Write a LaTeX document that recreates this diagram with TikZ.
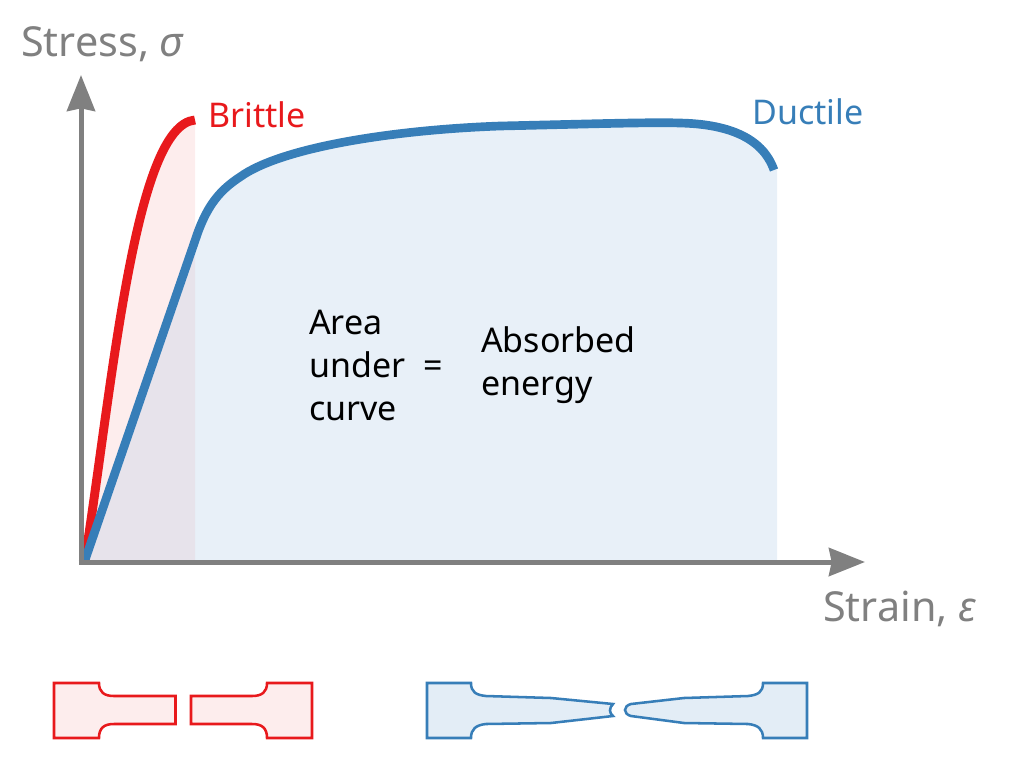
\documentclass[tikz,border=0pt]{standalone}
\usepackage{fontspec}
\setmainfont{Noto Sans}
\usetikzlibrary{arrows.meta}
\definecolor{cred}{HTML}{E8191C}
\definecolor{cblue}{HTML}{377EB8}
\definecolor{cgray}{HTML}{808080}
\definecolor{fred}{HTML}{FDEDED}
\definecolor{fblue}{HTML}{E8F0F8}
\definecolor{fboth}{HTML}{E7E3EB}
\definecolor{sred}{HTML}{FDEDED}
\definecolor{sblue}{HTML}{E3EDF6}
\tikzset{
 axisline/.style={draw=cgray,line width=3.75pt,-{Stealth[length=27pt,width=21pt,inset=2pt]}},
 curvered/.style={draw=cred,line width=6.7pt},
 curveblue/.style={draw=cblue,line width=6.5pt},
 lab/.style={font=\fontsize{25.5}{32}\selectfont,anchor=base west,inner sep=0pt},
 axlab/.style={font=\fontsize{31}{36}\selectfont,text=cgray,anchor=base west,inner sep=0pt},
 spred/.style={draw=cred,fill=sred,line width=1.9pt},
 spblue/.style={draw=cblue,fill=sblue,line width=1.9pt},
}
\def\redcurve{(85,560) .. controls (113,380) and (135,125) .. (195,120)}
\def\bluetop{(85,560) -- (198,232) .. controls (208,205) and (220,190) .. (240,177) .. controls (280,148) and (390,130) .. (500,126) .. controls (590,124) and (650,122) .. (680,123)}
\def\bluecurve{\bluetop .. controls (725,124) and (762,136) .. (774,170)}
\begin{document}
\begin{tikzpicture}[x=0.75pt,y=-0.75pt]
\useasboundingbox (0,0) rectangle (1024,768);
\coordinate (o) at (81,562);
\coordinate (ytip) at (81,75);
\coordinate (xtip) at (865,562);
\fill[fred] \redcurve -- (195,562) -- (85,562) -- cycle;
\fill[fblue] \bluetop .. controls (725,124) and (765,136) .. (777,170) -- (777,562) -- (85,562) -- cycle;
\begin{scope}
\clip (85,562) rectangle (195,100);
\fill[fboth] \bluecurve -- (777,562) -- cycle;
\end{scope}
\draw[curvered] \redcurve;
\draw[curveblue] \bluecurve;
\draw[axisline] (81,564.5) -- (ytip);
\draw[axisline] (78.5,562) -- (xtip);
\node[axlab] (stress) at (21,56) {Stress, \textit{σ}};
\node[axlab] (strain) at (823,621) {Strain, \textit{ε}};
\node[lab,text=cred] (brittle) at (208,127) {Brittle};
\node[lab,text=cblue] (ductile) at (752,124) {Ductile};
\node[lab] (area1) at (309,334) {Area};
\node[lab] (area2) at (309,377) {under};
\node[lab] (area3) at (309,420) {curve};
\node[lab] (eq) at (423,377) {=};
\node[lab] (abs1) at (481,352) {Absorbed};
\node[lab] (abs2) at (481,395) {energy};
% brittle specimen
\draw[spred] (54,683) -- (99,683) .. controls (99,692) and (104,696) .. (114,696) -- (175.5,696) -- (175.5,724) -- (114,724) .. controls (104,724) and (99,728) .. (99,738) -- (54,738) -- cycle;
\draw[spred] (312,683) -- (267,683) .. controls (267,692) and (262,696) .. (252,696) -- (191,696) -- (191,724) -- (252,724) .. controls (262,724) and (267,728) .. (267,738) -- (312,738) -- cycle;
% ductile specimen
\draw[spblue] (427,683) -- (471,683) .. controls (471,692) and (476,695) .. (486,696) -- (551,698) -- (613,704) .. controls (609,708) and (609,713) .. (613,716) -- (551,723) -- (486,724) .. controls (476,725) and (471,729) .. (471,738) -- (427,738) -- cycle;
\draw[spblue] (807,683) -- (763,683) .. controls (763,692) and (758,695) .. (748,696) -- (684,698) -- (631,704) .. controls (623,706) and (623,714) .. (631,716) -- (684,723) -- (748,724) .. controls (758,725) and (763,729) .. (763,738) -- (807,738) -- cycle;
\end{tikzpicture}
\end{document}
